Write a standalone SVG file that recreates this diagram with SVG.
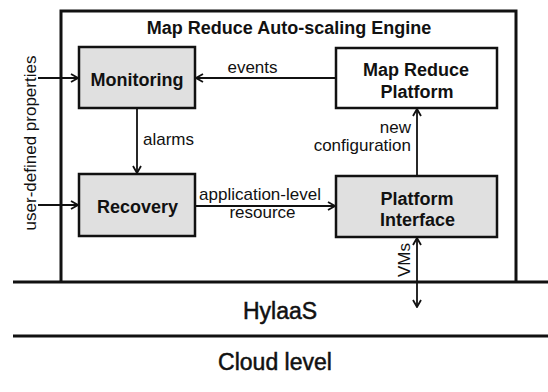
<svg xmlns="http://www.w3.org/2000/svg" width="548" height="392" viewBox="0 0 548 392">
  <style>
    .box { stroke: #111; stroke-width: 2.5; }
    .gray { fill: #e0e0e0; }
    .white { fill: #fff; }
    .node { font-family: "Liberation Sans", Arial, sans-serif; font-weight: bold; font-size: 18px; fill: #111; text-anchor: middle; }
    .lbl { font-family: "Liberation Sans", Arial, sans-serif; font-size: 17px; fill: #111; }
    .layer { font-family: "Liberation Sans", Arial, sans-serif; font-size: 23px; fill: #111; stroke: #111; stroke-width: 0.5; text-anchor: middle; }
    .wire { stroke: #111; stroke-width: 1.8; fill: none; }
    .rule { stroke: #111; stroke-width: 3; fill: none; }
  </style>
  <defs>
    <marker id="head" viewBox="0 0 10 10" refX="9" refY="5" markerWidth="10" markerHeight="10" markerUnits="userSpaceOnUse" orient="auto-start-reverse">
      <path d="M2,1 L9,5 L2,9" fill="none" stroke="#111" stroke-width="1.8"/>
    </marker>
  </defs>

  <rect width="548" height="392" fill="#fff"/>

  <!-- layer rules and engine frame -->
  <g id="layers">
    <path class="rule" d="M61,282 V11 H516 V282"/>
    <line class="rule" x1="13" y1="282" x2="548" y2="282"/>
    <line class="rule" x1="13" y1="336" x2="548" y2="336"/>
    <text class="node" x="289" y="34" font-size="18.5">Map Reduce Auto-scaling Engine</text>
    <text class="layer" x="280" y="319">HylaaS</text>
    <text class="layer" x="275" y="370">Cloud level</text>
  </g>

  <g id="monitoring">
    <rect class="box gray" x="79" y="47" width="116" height="61"/>
    <text class="node" x="137" y="86">Monitoring</text>
  </g>

  <g id="recovery">
    <rect class="box gray" x="79" y="174" width="116" height="62"/>
    <text class="node" x="137.5" y="213">Recovery</text>
  </g>

  <g id="mapreduce-platform">
    <rect class="box white" x="336" y="48" width="161" height="60"/>
    <text class="node" x="416" y="76">Map Reduce</text>
    <text class="node" x="417" y="98">Platform</text>
  </g>

  <g id="platform-interface">
    <rect class="box gray" x="336" y="176" width="161" height="61"/>
    <text class="node" x="417" y="205">Platform</text>
    <text class="node" x="417.5" y="226">Interface</text>
  </g>

  <g id="connectors">
    <line class="wire" x1="38" y1="78" x2="78" y2="78" marker-end="url(#head)"/>
    <line class="wire" x1="38" y1="205" x2="78" y2="205" marker-end="url(#head)"/>
    <line class="wire" x1="335" y1="78" x2="196" y2="78" marker-end="url(#head)"/>
    <line class="wire" x1="137" y1="109" x2="137" y2="173" marker-end="url(#head)"/>
    <line class="wire" x1="196" y1="206" x2="335" y2="206" marker-end="url(#head)"/>
    <line class="wire" x1="417" y1="175" x2="417" y2="109" marker-end="url(#head)"/>
    <line class="wire" x1="417" y1="238" x2="417" y2="307" marker-start="url(#head)" marker-end="url(#head)"/>

    <text class="lbl" x="36" y="143" text-anchor="middle" transform="rotate(-90 36 143)">user-defined properties</text>
    <text class="lbl" x="252.5" y="73" text-anchor="middle">events</text>
    <text class="lbl" x="143" y="145">alarms</text>
    <text class="lbl" x="260" y="200" text-anchor="middle">application-level</text>
    <text class="lbl" x="262.5" y="218" text-anchor="middle">resource</text>
    <text class="lbl" x="411" y="133" text-anchor="end">new</text>
    <text class="lbl" x="411" y="151" text-anchor="end">configuration</text>
    <text class="lbl" x="410" y="260" text-anchor="middle" transform="rotate(-90 410 260)">VMs</text>
  </g>
</svg>
